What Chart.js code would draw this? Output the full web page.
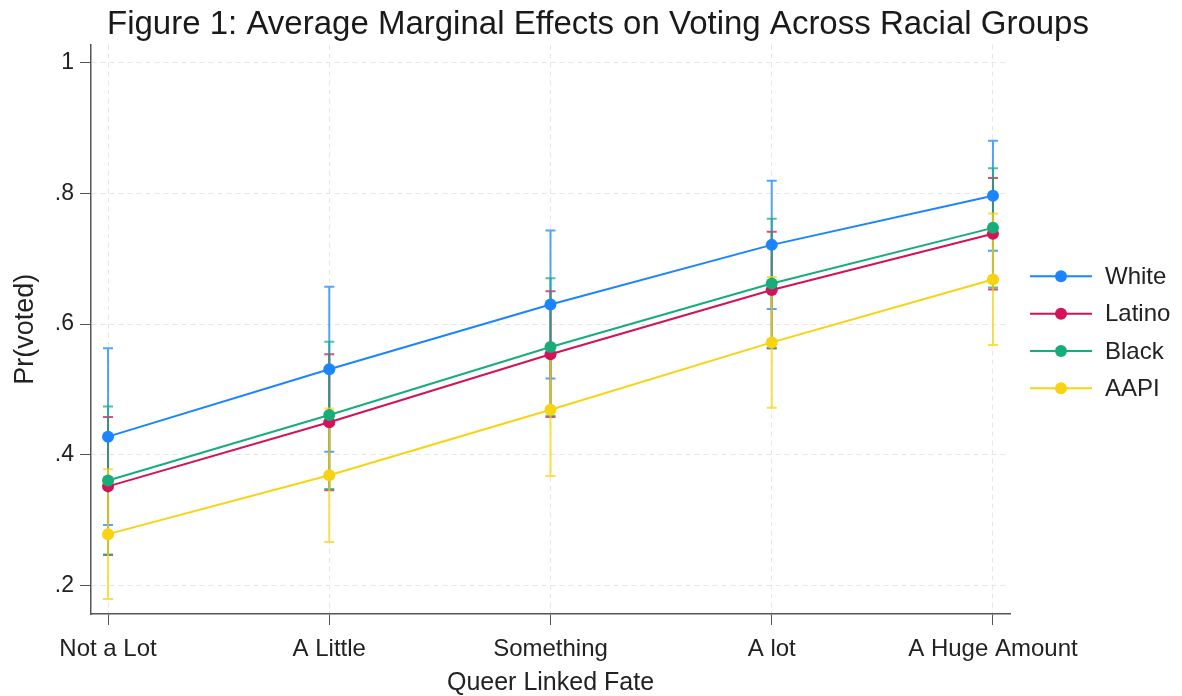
<!DOCTYPE html>
<html>
<head>
<meta charset="utf-8">
<title>Average Marginal Effects on Voting</title>
<script src="https://cdn.jsdelivr.net/npm/chart.js@4/dist/chart.umd.min.js"></script>
<style>
    body { margin: 0; background: #fff; }
    #wrap { width: 1182px; height: 696px; }
</style>
</head>
<body>
<div id="wrap"><canvas id="marginsChart" width="1182" height="696"></canvas></div>
<script>
// Categories and tick labels
const categories = ['Not a Lot', 'A Little', 'Something', 'A lot', 'A Huge Amount'];
const yTicks = [0.2, 0.4, 0.6, 0.8, 1];

// Series: predicted probabilities and 95% CI bounds
const seriesNames = ['White', 'Latino', 'Black', 'AAPI'];
const seriesColors = ['#1a85ff', '#d41159', '#17ad79', '#f7d313'];

const whiteMean = [0.428, 0.531, 0.630, 0.721, 0.796];
const whiteLow  = [0.293, 0.405, 0.517, 0.623, 0.712];
const whiteHigh = [0.563, 0.657, 0.743, 0.819, 0.880];

const latinoMean = [0.352, 0.450, 0.554, 0.652, 0.738];
const latinoLow  = [0.247, 0.346, 0.458, 0.563, 0.653];
const latinoHigh = [0.458, 0.554, 0.650, 0.741, 0.823];

const blackMean = [0.361, 0.461, 0.565, 0.662, 0.747];
const blackLow  = [0.248, 0.348, 0.460, 0.563, 0.656];
const blackHigh = [0.474, 0.573, 0.670, 0.761, 0.838];

const aapiMean = [0.279, 0.369, 0.469, 0.572, 0.668];
const aapiLow  = [0.180, 0.267, 0.368, 0.472, 0.568];
const aapiHigh = [0.378, 0.471, 0.570, 0.672, 0.769];

const means = [whiteMean, latinoMean, blackMean, aapiMean];
const lows = [whiteLow, latinoLow, blackLow, aapiLow];
const highs = [whiteHigh, latinoHigh, blackHigh, aapiHigh];

const FONT = '"Liberation Sans", Arial, Helvetica, sans-serif';
const TEXT = '#222';

function withAlpha(hex, a) {
    const n = parseInt(hex.slice(1), 16);
    return `rgba(${(n >> 16) & 255}, ${(n >> 8) & 255}, ${n & 255}, ${a})`;
}

// Confidence interval caps, drawn under the lines
const errorBars = {
    id: 'errorBars',
    beforeDatasetsDraw(chart) {
        const ctx = chart.ctx;
        const xs = chart.scales.x;
        const ys = chart.scales.y;
        ctx.save();
        seriesNames.forEach((name, s) => {
            ctx.strokeStyle = withAlpha(seriesColors[s], 0.75);
            ctx.lineWidth = 2;
            lows[s].forEach((lo, i) => {
                const px = xs.getPixelForValue(i);
                const yLo = ys.getPixelForValue(lo);
                const yHi = ys.getPixelForValue(highs[s][i]);
                ctx.beginPath();
                ctx.moveTo(px, yLo);
                ctx.lineTo(px, yHi);
                ctx.moveTo(px - 5, yLo);
                ctx.lineTo(px + 5, yLo);
                ctx.moveTo(px - 5, yHi);
                ctx.lineTo(px + 5, yHi);
                ctx.stroke();
            });
        });
        ctx.restore();
    }
};

// Legend on the right: line with a marker
const sideLegend = {
    id: 'sideLegend',
    afterDraw(chart) {
        const ctx = chart.ctx;
        const area = chart.chartArea;
        const mid = (area.top + area.bottom) / 2 + 3;
        ctx.save();
        seriesNames.forEach((name, s) => {
            const y = mid + (s - 1.5) * 37.3;
            ctx.strokeStyle = seriesColors[s];
            ctx.lineWidth = 2;
            ctx.beginPath();
            ctx.moveTo(1030, y);
            ctx.lineTo(1092, y);
            ctx.stroke();
            ctx.fillStyle = seriesColors[s];
            ctx.beginPath();
            ctx.arc(1061, y, 6, 0, Math.PI * 2);
            ctx.fill();
            ctx.fillStyle = TEXT;
            ctx.font = '24px ' + FONT;
            ctx.textBaseline = 'middle';
            ctx.textAlign = 'left';
            ctx.fillText(name, 1105, y + 1);
        });
        ctx.restore();
    }
};

const datasets = seriesNames.map((name, s) => ({
    label: name,
    data: means[s].map((v, i) => ({ x: i, y: v })),
    borderColor: seriesColors[s],
    backgroundColor: seriesColors[s],
    pointBackgroundColor: seriesColors[s],
    pointBorderWidth: 0,
    pointRadius: 6,
    borderWidth: 2,
    tension: 0,
    order: seriesNames.length - s
}));

const ctx = document.getElementById('marginsChart').getContext('2d');
window.marginsChart = new Chart(ctx, {
    type: 'line',
    data: { datasets: datasets },
    plugins: [errorBars, sideLegend],
    options: {
        responsive: false,
        animation: false,
        layout: { padding: { left: 14, top: 0, right: 0, bottom: 0 } },
        plugins: {
            legend: { display: false },
            tooltip: { enabled: false },
            title: {
                display: true,
                text: 'Figure 1: Average Marginal Effects on Voting Across Racial Groups',
                color: '#1a1a1a',
                font: { family: FONT, size: 33, weight: 'normal' },
                padding: { top: 5, bottom: 0 }
            }
        },
        scales: {
            x: {
                type: 'linear',
                min: -0.077,
                max: 4.077,
                afterBuildTicks(scale) {
                    scale.ticks = categories.map((c, i) => ({ value: i }));
                },
                afterFit(scale) {
                    scale.height = 82;
                },
                ticks: {
                    color: TEXT,
                    font: { family: FONT, size: 24 },
                    padding: 10,
                    maxRotation: 0,
                    autoSkip: false,
                    callback: (v) => categories[v]
                },
                grid: {
                    color: '#e6e6e6',
                    tickColor: '#555',
                    tickLength: 11,
                    tickBorderDash: []
                },
                border: { color: '#555', width: 1.5, dash: [5, 4] },
                title: {
                    display: true,
                    text: 'Queer Linked Fate',
                    color: TEXT,
                    font: { family: FONT, size: 25, lineHeight: 1 },
                    padding: { top: 0, bottom: 0 }
                }
            },
            y: {
                min: 0.157,
                max: 1.027,
                afterBuildTicks(scale) {
                    scale.ticks = yTicks.map(v => ({ value: v }));
                },
                afterFit(scale) {
                    scale.width = 77;
                },
                ticks: {
                    color: TEXT,
                    font: { family: FONT, size: 23 },
                    padding: 6,
                    callback: (v) => v === 1 ? '1' : '.' + Math.round(v * 10)
                },
                grid: {
                    color: '#e6e6e6',
                    tickColor: '#555',
                    tickLength: 11,
                    tickBorderDash: []
                },
                border: { color: '#555', width: 1.5, dash: [5, 4] },
                title: {
                    display: true,
                    text: 'Pr(voted)',
                    color: TEXT,
                    font: { family: FONT, size: 27, lineHeight: 1 },
                    padding: { top: -2, bottom: 0 }
                }
            },
            legendSpace: {
                position: 'right',
                display: true,
                afterFit(scale) {
                    scale.width = 172;
                },
                ticks: { display: false },
                grid: { display: false, drawTicks: false },
                border: { display: false }
            }
        }
    }
});
</script>
</body>
</html>
